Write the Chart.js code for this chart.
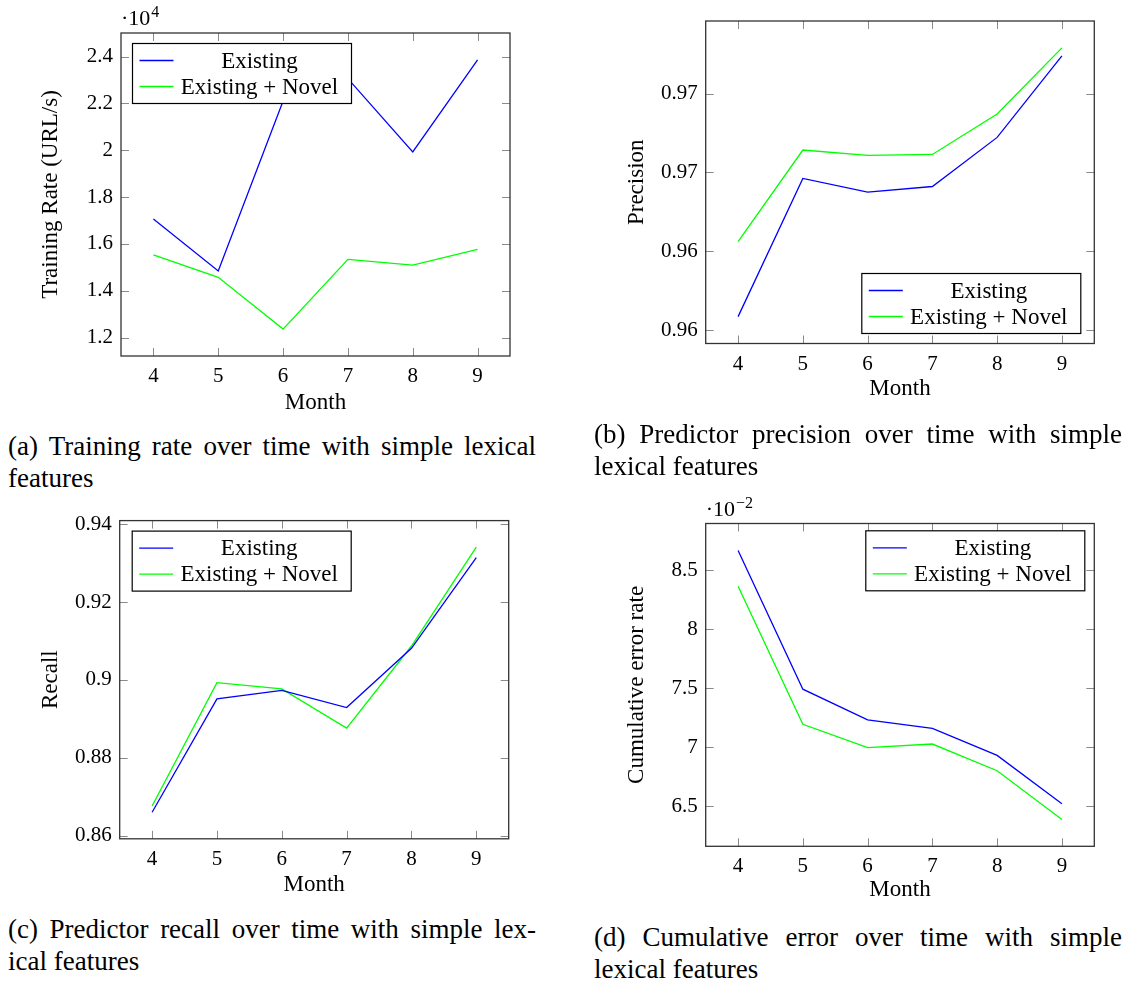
<!DOCTYPE html>
<html>
<head>
<meta charset="utf-8">
<script src="https://cdn.jsdelivr.net/npm/chart.js@4/dist/chart.umd.min.js"></script>
<style>
body { margin: 0; background: #fff; width: 1132px; height: 981px; position: relative; overflow: hidden; font-family: "Liberation Serif", "Times New Roman", serif; }
.box { position: absolute; }
.cap { position: absolute; width: 528px; font-size: 27px; line-height: 32px; color: #000; }
.cap .j { text-align: justify; text-align-last: justify; white-space: nowrap; }
</style>
</head>
<body>
<div class="box" style="left:0;top:0;width:520px;height:420px"><canvas id="rateChart"></canvas></div>
<div class="box" style="left:570px;top:0;width:534px;height:410px"><canvas id="precisionChart"></canvas></div>
<div class="box" style="left:0;top:500px;width:520px;height:400px"><canvas id="recallChart"></canvas></div>
<div class="box" style="left:570px;top:480px;width:534px;height:430px"><canvas id="errorChart"></canvas></div>

<div class="cap" style="left:8px;top:430px"><div class="j">(a) Training rate over time with simple lexical</div><div>features</div></div>
<div class="cap" style="left:594px;top:418px"><div class="j">(b) Predictor precision over time with simple</div><div>lexical features</div></div>
<div class="cap" style="left:8px;top:913px"><div class="j">(c) Predictor recall over time with simple lex-</div><div>ical features</div></div>
<div class="cap" style="left:594px;top:921px"><div class="j">(d) Cumulative error over time with simple</div><div>lexical features</div></div>

<script>
// Chart data
const months = [4, 5, 6, 7, 8, 9];

// training rate, in units of 10^4 URL/s
const rateExisting = [1.706, 1.484, 2.21, 2.306, 1.993, 2.386];
const rateNovel = [1.553, 1.457, 1.236, 1.534, 1.509, 1.577];
const rateTicks = [1.2, 1.4, 1.6, 1.8, 2.0, 2.2, 2.4];
const rateTickLabels = ['1.2', '1.4', '1.6', '1.8', '2', '2.2', '2.4'];

const precisionExisting = [0.95587, 0.96462, 0.96375, 0.96411, 0.96722, 0.97238];
const precisionNovel = [0.96062, 0.96642, 0.96608, 0.96614, 0.96870, 0.97289];
const precisionTicks = [0.955, 0.96, 0.965, 0.97];
const precisionTickLabels = ['0.96', '0.96', '0.97', '0.97'];

const recallExisting = [0.8660, 0.8951, 0.8973, 0.8929, 0.9081, 0.9314];
const recallNovel = [0.8676, 0.8993, 0.8977, 0.8876, 0.9087, 0.9341];
const recallTicks = [0.86, 0.88, 0.90, 0.92, 0.94];
const recallTickLabels = ['0.86', '0.88', '0.9', '0.92', '0.94'];

// cumulative error rate, in units of 10^-2
const errorExisting = [8.667, 7.492, 7.232, 7.161, 6.932, 6.523];
const errorNovel = [8.364, 7.195, 6.997, 7.028, 6.802, 6.390];
const errorTicks = [6.5, 7, 7.5, 8, 8.5];
const errorTickLabels = ['6.5', '7', '7.5', '8', '8.5'];

const BLUE = '#0000ff';
const GREEN = '#00ff00';
const FONT_FAMILY = '"Liberation Serif", "Times New Roman", serif';
const tickFont = { family: FONT_FAMILY, size: 21 };
const titleFont = { family: FONT_FAMILY, size: 23 };

function toPoints(values) {
    return values.map((v, i) => ({ x: months[i], y: v }));
}

// pgfplots style: 10% extra room around the data
function enlarged(a, b) {
    const all = a.concat(b);
    const lo = Math.min(...all), hi = Math.max(...all);
    const pad = (hi - lo) * 0.1;
    return { min: lo - pad, max: hi + pad };
}

// box around the plot area, with inward tick marks on all four sides
const framePlugin = {
    id: 'frame',
    afterDatasetsDraw(chart) {
        const { ctx, chartArea: a, scales: { x, y } } = chart;
        ctx.save();
        ctx.strokeStyle = '#8a8a8a';
        ctx.lineWidth = 1;
        ctx.beginPath();
        x.ticks.forEach(t => {
            const px = Math.round(x.getPixelForValue(t.value)) + 0.5;
            ctx.moveTo(px, a.bottom); ctx.lineTo(px, a.bottom - 8);
            ctx.moveTo(px, a.top); ctx.lineTo(px, a.top + 8);
        });
        y.ticks.forEach(t => {
            const py = Math.round(y.getPixelForValue(t.value)) + 0.5;
            ctx.moveTo(a.left, py); ctx.lineTo(a.left + 8, py);
            ctx.moveTo(a.right, py); ctx.lineTo(a.right - 8, py);
        });
        ctx.stroke();
        ctx.strokeStyle = '#333';
        ctx.lineWidth = 1.3;
        ctx.strokeRect(a.left, a.top, a.right - a.left, a.bottom - a.top);
        ctx.restore();
    }
};

// framed legend inside the plot area
const boxLegendPlugin = {
    id: 'boxLegend',
    afterDraw(chart, args, opts) {
        const { ctx, chartArea: a } = chart;
        const w = 219, h = 60;
        const x = opts.corner.includes('e') ? a.right - opts.dx - w : a.left + opts.dx;
        const y = opts.corner.includes('s') ? a.bottom - opts.dy - h : a.top + opts.dy;
        ctx.save();
        ctx.fillStyle = '#fff';
        ctx.fillRect(x, y, w, h);
        ctx.strokeStyle = '#000';
        ctx.lineWidth = 1.2;
        ctx.strokeRect(x, y, w, h);
        ctx.font = '23px ' + FONT_FAMILY;
        ctx.textAlign = 'center';
        ctx.textBaseline = 'middle';
        chart.data.datasets.forEach((ds, i) => {
            const ry = y + 17 + i * 26;
            ctx.strokeStyle = ds.borderColor;
            ctx.lineWidth = 1.3;
            ctx.beginPath();
            ctx.moveTo(x + 7, ry);
            ctx.lineTo(x + 41, ry);
            ctx.stroke();
            ctx.fillStyle = '#000';
            ctx.fillText(ds.label, x + 127, ry + 1);
        });
        ctx.restore();
    }
};

// axis multiplier such as ·10^4 above the top-left corner
const exponentPlugin = {
    id: 'exponent',
    afterDraw(chart, args, opts) {
        if (!opts.power) return;
        const { ctx, chartArea: a } = chart;
        ctx.save();
        ctx.fillStyle = '#000';
        ctx.textBaseline = 'alphabetic';
        ctx.textAlign = 'left';
        ctx.font = '22px ' + FONT_FAMILY;
        const base = '\u00b710';
        const yb = a.top - 8;
        ctx.fillText(base, a.left, yb);
        const bw = ctx.measureText(base).width;
        ctx.font = '16px ' + FONT_FAMILY;
        ctx.fillText(opts.power, a.left + bw + 1, yb - 8);
        ctx.restore();
    }
};

function buildChart(id, cfg) {
    const range = enlarged(cfg.existing, cfg.novel);
    return new Chart(document.getElementById(id), {
        type: 'line',
        data: {
            datasets: [{
                label: 'Existing',
                data: toPoints(cfg.existing),
                borderColor: BLUE,
                borderWidth: 1.3,
                pointRadius: 0,
                tension: 0,
                fill: false
            }, {
                label: 'Existing + Novel',
                data: toPoints(cfg.novel),
                borderColor: GREEN,
                borderWidth: 1.3,
                pointRadius: 0,
                tension: 0,
                fill: false
            }]
        },
        options: {
            responsive: true,
            maintainAspectRatio: false,
            animation: false,
            layout: { padding: { top: cfg.padTop, right: cfg.padRight, left: 0, bottom: 0 } },
            plugins: {
                legend: { display: false },
                tooltip: { enabled: false },
                boxLegend: cfg.legend,
                exponent: { power: cfg.power }
            },
            scales: {
                x: {
                    type: 'linear',
                    min: 3.5,
                    max: 9.5,
                    afterBuildTicks: scale => { scale.ticks = months.map(v => ({ value: v })); },
                    afterFit: scale => { scale.height = cfg.xHeight; },
                    grid: { display: false, drawTicks: false },
                    border: { display: false },
                    ticks: {
                        font: tickFont,
                        color: '#000',
                        padding: 8,
                        maxRotation: 0,
                        autoSkip: false,
                        callback: v => String(v)
                    },
                    title: {
                        display: true,
                        text: 'Month',
                        font: titleFont,
                        color: '#000',
                        padding: { top: 0, bottom: cfg.xTitlePad }
                    }
                },
                y: {
                    type: 'linear',
                    min: range.min,
                    max: range.max,
                    afterBuildTicks: scale => { scale.ticks = cfg.ticks.map(v => ({ value: v })); },
                    afterFit: scale => { scale.width = cfg.yWidth; },
                    grid: { display: false, drawTicks: false },
                    border: { display: false },
                    ticks: {
                        font: tickFont,
                        color: '#000',
                        padding: 8,
                        autoSkip: false,
                        callback: (v, i) => cfg.tickLabels[i]
                    },
                    title: {
                        display: true,
                        text: cfg.yTitle,
                        font: titleFont,
                        color: '#000',
                        padding: { top: cfg.yTitlePad, bottom: 0 }
                    }
                }
            }
        },
        plugins: [framePlugin, boxLegendPlugin, exponentPlugin]
    });
}

buildChart('rateChart', {
    existing: rateExisting, novel: rateNovel,
    ticks: rateTicks, tickLabels: rateTickLabels,
    yTitle: 'Training Rate (URL/s)', power: '4',
    padTop: 33, padRight: 10, yWidth: 121, xHeight: 64, yTitlePad: 37, xTitlePad: 3.5,
    legend: { corner: 'nw', dx: 11.5, dy: 10.5 }
});

buildChart('precisionChart', {
    existing: precisionExisting, novel: precisionNovel,
    ticks: precisionTicks, tickLabels: precisionTickLabels,
    yTitle: 'Precision', power: null,
    padTop: 21, padRight: 9.7, yWidth: 135.7, xHeight: 66.5, yTitlePad: 53, xTitlePad: 7.5,
    legend: { corner: 'se', dx: 13.5, dy: 10 }
});

buildChart('recallChart', {
    existing: recallExisting, novel: recallNovel,
    ticks: recallTicks, tickLabels: recallTickLabels,
    yTitle: 'Recall', power: null,
    padTop: 15.5, padRight: 11.3, yWidth: 119.7, xHeight: 61.2, yTitlePad: 37, xTitlePad: 1,
    legend: { corner: 'nw', dx: 12.5, dy: 10.5 }
});

buildChart('errorChart', {
    existing: errorExisting, novel: errorNovel,
    ticks: errorTicks, tickLabels: errorTickLabels,
    yTitle: 'Cumulative error rate', power: '\u22122',
    padTop: 43.5, padRight: 9.7, yWidth: 135.7, xHeight: 63.7, yTitlePad: 53, xTitlePad: 6,
    legend: { corner: 'ne', dx: 9.5, dy: 7.3 }
});
</script>
</body>
</html>
